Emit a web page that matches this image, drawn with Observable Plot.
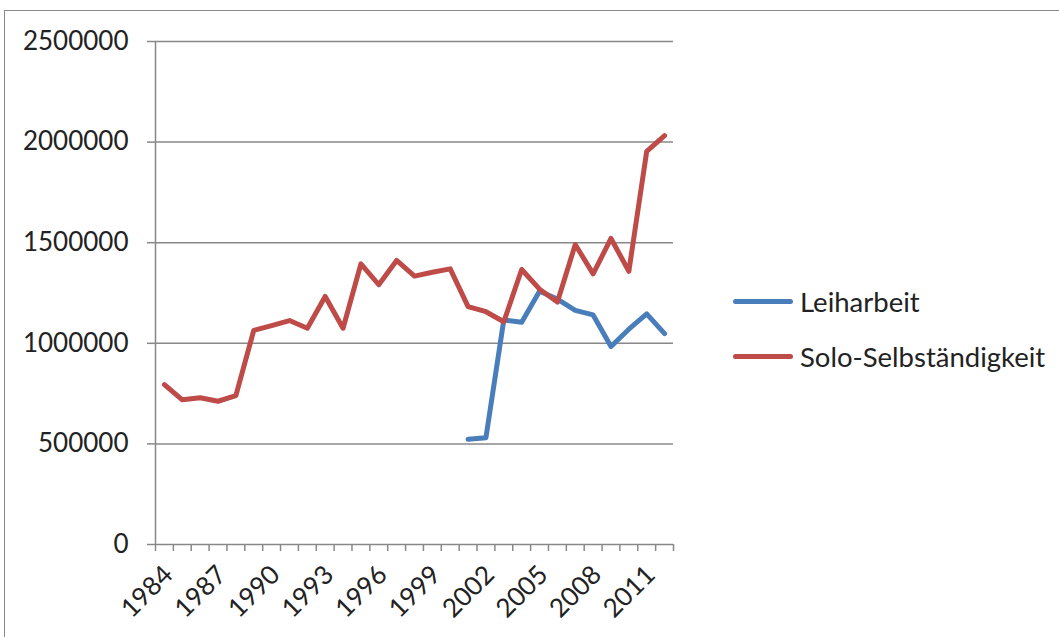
<!DOCTYPE html>
<html>
<head>
<meta charset="utf-8">
<script src="https://cdn.jsdelivr.net/npm/d3@7"></script>
<script src="https://cdn.jsdelivr.net/npm/@observablehq/plot@0.6"></script>
<style>
  html, body { margin: 0; padding: 0; background: #fff; overflow: hidden; }
  #wrap { position: relative; width: 1059px; height: 637px; font-family: Lato, "Open Sans", sans-serif; }
  #frame { position: absolute; left: 4px; top: 10px; width: 1100px; height: 700px; border: 1.5px solid #888; box-sizing: border-box; }
  #chart { position: absolute; left: 0; top: 0; }
  #legend { position: absolute; left: 733px; top: 282px; font-size: 27.5px; color: #222; }
  .item { display: flex; align-items: center; height: 38px; margin-bottom: 17px; }
  .sw { width: 60px; height: 5px; border-radius: 3px; margin-right: 7px; }
</style>
</head>
<body>
<div id="wrap">
  <div id="frame"></div>
  <div id="chart"></div>
  <div id="legend"></div>
</div>
<script>
const years = [1984,1985,1986,1987,1988,1989,1990,1991,1992,1993,1994,1995,1996,1997,1998,1999,2000,2001,2002,2003,2004,2005,2006,2007,2008,2009,2010,2011,2012];
const soloSelbstaendigkeit = [795000,719000,729000,712000,740000,1064000,1088000,1113000,1075000,1233000,1075000,1395000,1291000,1412000,1334000,1353000,1370000,1182000,1157000,1107000,1367000,1269000,1205000,1491000,1345000,1521000,1358000,1954000,2032000];
const leiharbeitYears = [2001,2002,2003,2004,2005,2006,2007,2008,2009,2010,2011,2012];
const leiharbeit = [523000,531000,1116000,1105000,1259000,1220000,1164000,1141000,984000,1070000,1146000,1048000];
const yTicks = [0,500000,1000000,1500000,2000000,2500000];
const xLabelTicks = [1984,1987,1990,1993,1996,1999,2002,2005,2008,2011];
const seriesNames = ["Leiharbeit","Solo-Selbständigkeit"];
const seriesColors = ["#4a7ebb","#be4b48"];

const soloData = years.map((y,i) => ({year: y, value: soloSelbstaendigkeit[i]}));
const leihData = leiharbeitYears.map((y,i) => ({year: y, value: leiharbeit[i]}));
// category boundaries for tick marks (Excel category axis)
const boundaries = years.map(y => y - 0.5).concat([years[years.length-1] + 0.5]);
const xDomain = [years[0] - 0.5, years[years.length-1] + 0.5];
const gray = "#888";

const chart = Plot.plot({
  width: 1059,
  height: 637,
  marginLeft: 155,
  marginRight: 386,
  marginTop: 41,
  marginBottom: 93,
  style: {fontFamily: "Lato, 'Open Sans', sans-serif", color: "#222", background: "transparent"},
  x: {domain: xDomain, axis: null},
  y: {domain: [0, 2500000], axis: null},
  marks: [
    Plot.gridY(yTicks.filter(d => d > 0), {stroke: gray, strokeOpacity: 1, strokeWidth: 1.5}),
    Plot.ruleX([xDomain[0]], {y1: 0, y2: 2500000, stroke: gray, strokeWidth: 1.5}),
    Plot.ruleY([0], {stroke: gray, strokeWidth: 1.5}),
    Plot.axisY({ticks: yTicks, tickSize: 8, tickPadding: 19, tickFormat: d => String(d), fontSize: 26, stroke: gray, strokeWidth: 1.5, label: null}),
    Plot.axisX({ticks: boundaries, tickSize: 7, tickFormat: () => "", stroke: gray, strokeWidth: 1.5, label: null}),
    Plot.axisX({ticks: xLabelTicks, tickSize: 0, tickPadding: 25, tickRotate: -45, tickFormat: d => String(d), fontSize: 26, dx: 4, dy: 1, label: null}),
    Plot.line(leihData, {x: "year", y: "value", stroke: seriesColors[0], strokeWidth: 5, strokeLinejoin: "round", strokeLinecap: "round"}),
    Plot.line(soloData, {x: "year", y: "value", stroke: seriesColors[1], strokeWidth: 5, strokeLinejoin: "round", strokeLinecap: "round"})
  ]
});
document.getElementById("chart").appendChild(chart);

const legend = document.getElementById("legend");
seriesNames.forEach((n, i) => {
  const item = document.createElement("div");
  item.className = "item";
  const sw = document.createElement("div");
  sw.className = "sw";
  sw.style.background = seriesColors[i];
  const t = document.createElement("span");
  t.textContent = n;
  item.appendChild(sw);
  item.appendChild(t);
  legend.appendChild(item);
});
</script>
</body>
</html>
